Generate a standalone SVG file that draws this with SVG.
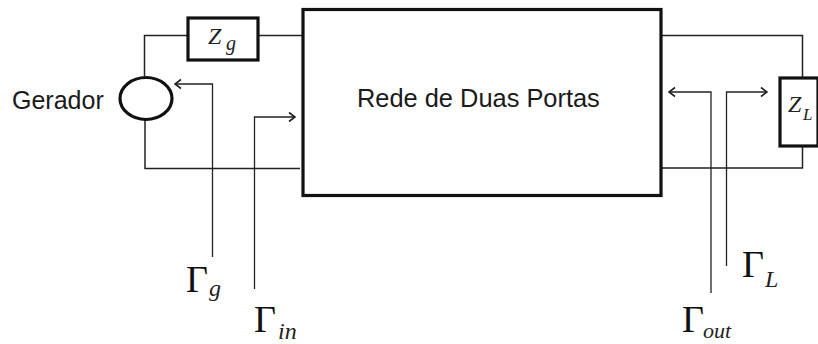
<svg xmlns="http://www.w3.org/2000/svg" width="818" height="344" viewBox="0 0 818 344">
<defs>
<style>
.box{fill:none;stroke:#111;stroke-width:3.2}
.w{fill:none;stroke:#222;stroke-width:1.5}
.r{fill:none;stroke:#222;stroke-width:1.3}
.s{font-family:"Liberation Sans",Arial,sans-serif;fill:#1a1a1a}
.g{font-family:"Liberation Serif","Times New Roman",serif;fill:#111;font-size:38px}
.i{font-family:"Liberation Serif","Times New Roman",serif;font-style:italic;fill:#222}
</style>
<marker id="a" viewBox="0 0 10 12" refX="9" refY="6" markerWidth="10" markerHeight="12" orient="auto" markerUnits="userSpaceOnUse"><path d="M3 1.500L9 6L3 10.500" fill="none" stroke="#222" stroke-width="1.6"/></marker>
</defs>
<rect width="818" height="344" fill="#fff"/>
<g id="connectors">
<path class="w" d="M187 35.500H144.500V76"/>
<path class="w" d="M258 35.500H302"/>
<path class="w" d="M145 120V168.500H300"/>
<path class="w" d="M662 35.500H802.500V77"/>
<path class="w" d="M802.500 147V168H662"/>
<path class="r" d="M212.500 257V84H175" marker-end="url(#a)"/>
<path class="r" d="M254.500 289V117H295" marker-end="url(#a)"/>
<path class="r" d="M711 293V92H669" marker-end="url(#a)"/>
<path class="r" d="M726.500 266V92H767" marker-end="url(#a)"/>
</g>
<g id="gerador"><ellipse class="box" cx="146" cy="98.500" rx="26" ry="21"/><text class="s" x="12" y="109" font-size="25">Gerador</text></g>
<g id="zg"><rect class="box" x="188" y="18" width="70" height="42"/><text class="i" x="208" y="44" font-size="24">Z</text><text class="i" x="226" y="50" font-size="20">g</text></g>
<g id="rede"><rect class="box" x="303" y="9.500" width="358" height="186"/><text class="s" x="357" y="107" font-size="25.400">Rede de Duas Portas</text></g>
<g id="zl"><rect class="box" x="780" y="78" width="38" height="68"/><text class="i" x="788" y="112" font-size="24">Z</text><text class="i" x="803" y="120" font-size="17">L</text></g>
<g id="gamma-g"><text class="g" x="186" y="292">Γ</text><text class="i" x="209" y="296" font-size="24">g</text></g>
<g id="gamma-in"><text class="g" x="254" y="332">Γ</text><text class="i" x="278" y="338.500" font-size="24">in</text></g>
<g id="gamma-out"><text class="g" x="682" y="332">Γ</text><text class="i" x="703" y="338" font-size="22">out</text></g>
<g id="gamma-l"><text class="g" x="742" y="277">Γ</text><text class="i" x="765" y="287" font-size="24">L</text></g>
</svg>
